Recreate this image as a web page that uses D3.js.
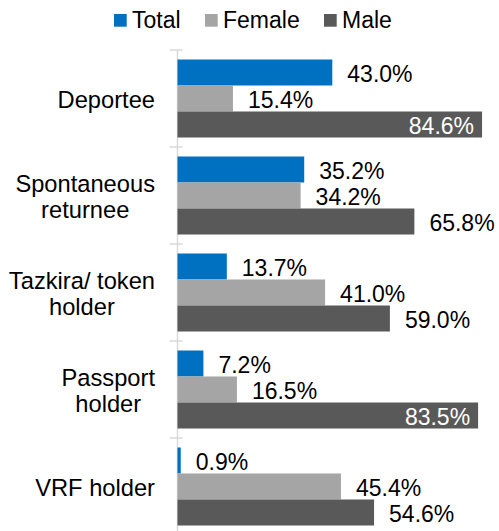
<!DOCTYPE html>
<html>
<head>
<meta charset="utf-8">
<script src="https://cdn.jsdelivr.net/npm/d3@7"></script>
<style>
  body { margin: 0; background: #fff; }
  text { font-family: "Liberation Sans", Arial, sans-serif; }
</style>
</head>
<body>
<div id="chart"></div>
<script>
// Data
const categories = [["Deportee"], ["Spontaneous", "returnee"], ["Tazkira/ token", "holder"], ["Passport", "holder"], ["VRF holder"]]
const seriesNames = ["Total", "Female", "Male"]
const totalValues = [0.430, 0.352, 0.137, 0.072, 0.009]
const femaleValues = [0.154, 0.342, 0.410, 0.165, 0.454]
const maleValues = [0.846, 0.658, 0.590, 0.835, 0.546]
const colors = ["#0070C0", "#A5A5A5", "#595959"]

const outerWidth = 499
const outerHeight = 531
const fontSize = 23
const catFontSize = 23.7

const svg = d3.select("#chart")
    .append("svg")
    .attr("width", outerWidth)
    .attr("height", outerHeight)

const rows = categories.map((c, i) => ({
    key: i,
    label: c,
    values: [totalValues[i], femaleValues[i], maleValues[i]]
}))

// Scales
const x = d3.scaleLinear()
    .domain([0, 0.9])
    .range([177.5, 501.5])

const y = d3.scaleBand()
    .domain(rows.map(d => d.key))
    .range([50, 535])

const yInner = d3.scaleBand()
    .domain(seriesNames)
    .range([0, y.bandwidth()])
    .paddingOuter(0.365)

// Axis line + ticks
svg.append("line")
    .attr("x1", x(0)).attr("x2", x(0))
    .attr("y1", 50).attr("y2", outerHeight)
    .attr("stroke", "#D9D9D9")
    .attr("stroke-width", 1.5)

svg.selectAll(".tick")
    .data(d3.range(rows.length + 1))
    .enter()
    .append("line")
    .attr("x1", x(0) - 8).attr("x2", x(0) + 5)
    .attr("y1", d => 50 + d * y.step())
    .attr("y2", d => 50 + d * y.step())
    .attr("stroke", "#D9D9D9")
    .attr("stroke-width", 1.5)

// Bars
const groups = svg.selectAll(".group")
    .data(rows)
    .enter()
    .append("g")
    .attr("transform", d => `translate(0, ${y(d.key)})`)

const fmt = d3.format(".1%")

groups.each(function(row) {
    const g = d3.select(this)
    row.values.forEach((v, j) => {
        const s = seriesNames[j]
        g.append("rect")
            .attr("x", x(0))
            .attr("y", yInner(s))
            .attr("width", x(v) - x(0))
            .attr("height", yInner.bandwidth())
            .attr("fill", colors[j])

        const label = g.append("text")
            .attr("y", yInner(s) + yInner.bandwidth() / 2 + 1)
            .attr("dy", "0.35em")
            .attr("font-size", fontSize)
            .text(fmt(v))
        const w = label.node().getComputedTextLength()
        if (x(v) + 15 + w > outerWidth - 2) {
            label.attr("x", x(v) - 8)
                .attr("text-anchor", "end")
                .attr("fill", "#fff")
        } else {
            label.attr("x", x(v) + 15)
                .attr("fill", "#000")
        }
    })
})

// Category labels: block right-aligned, lines centred within
const lineHeight = 26.5
groups.each(function(row) {
    const g = d3.select(this)
    const txt = g.append("text")
        .attr("font-size", catFontSize)
        .attr("fill", "#000")
        .attr("text-anchor", "middle")
    const n = row.label.length
    row.label.forEach((line, k) => {
        txt.append("tspan")
            .attr("x", 0)
            .attr("y", y.bandwidth() / 2 + 1 + (k - (n - 1) / 2) * lineHeight)
            .attr("dy", "0.35em")
            .text(line)
    })
    let maxW = 0
    txt.selectAll("tspan").each(function() {
        maxW = Math.max(maxW, this.getComputedTextLength())
    })
    txt.attr("transform", `translate(${155 - maxW / 2}, 0)`)
})

// Legend
const legendX = [114, 205, 324]
const legend = svg.selectAll(".legend")
    .data(seriesNames)
    .enter()
    .append("g")
    .attr("transform", (d, i) => `translate(${legendX[i]}, 14)`)

legend.append("rect")
    .attr("width", 12.7)
    .attr("height", 12.7)
    .attr("fill", (d, i) => colors[i])

legend.append("text")
    .attr("x", 18)
    .attr("y", 14.3)
    .attr("font-size", fontSize)
    .attr("fill", "#000")
    .text(d => d)
</script>
</body>
</html>
